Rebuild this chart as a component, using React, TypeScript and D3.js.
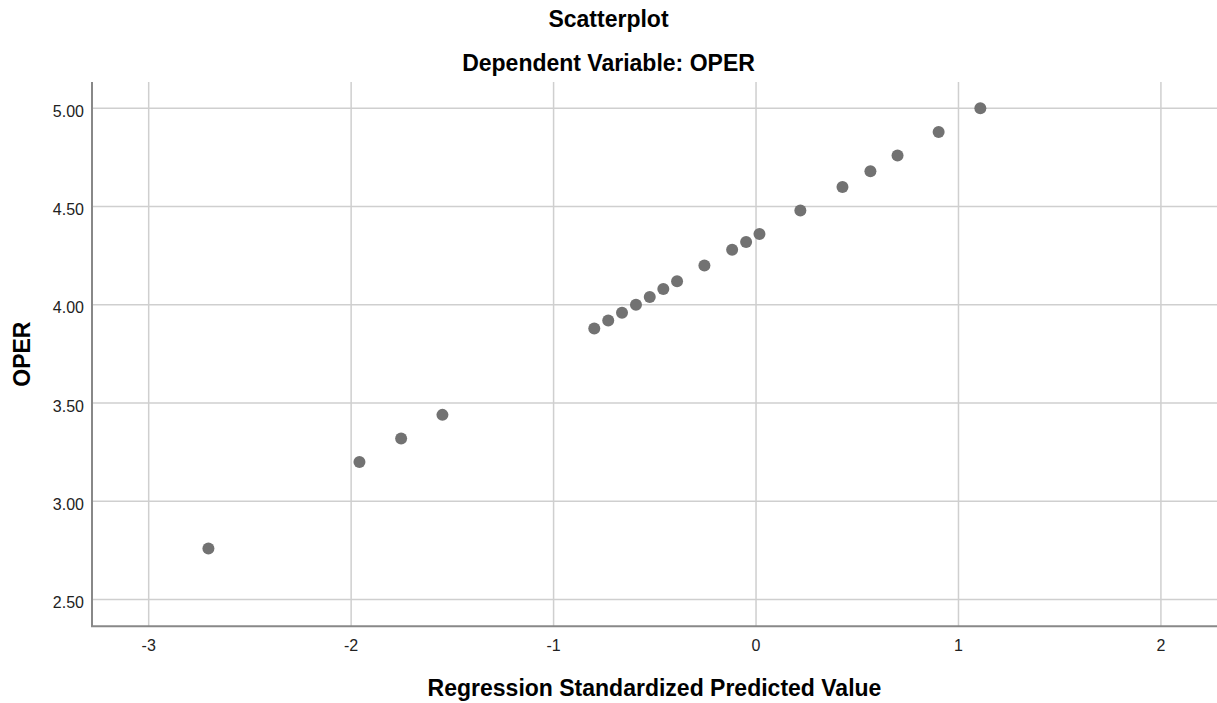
import React from "react";
import * as d3 from "d3";

const predicted = [-2.705, -1.959, -1.753, -1.549, -0.799, -0.730, -0.662, -0.593, -0.525, -0.458, -0.390, -0.255, -0.118, -0.049, 0.017, 0.219, 0.427, 0.565, 0.699, 0.902, 1.108];
const oper = [2.76, 3.20, 3.32, 3.44, 3.88, 3.92, 3.96, 4.00, 4.04, 4.08, 4.12, 4.20, 4.28, 4.32, 4.36, 4.48, 4.60, 4.68, 4.76, 4.88, 5.00];
const xTicks = [-3, -2, -1, 0, 1, 2];
const yTicks = [2.5, 3.0, 3.5, 4.0, 4.5, 5.0];
const title = "Scatterplot";
const subtitle = "Dependent Variable: OPER";
const xLabel = "Regression Standardized Predicted Value";
const yLabel = "OPER";

const W = 1217;
const H = 703;
const left = 92;
const right = 1217;
const top = 82;
const bottom = 626.3;

export default function App() {
  const x = d3.scaleLinear().domain([-3.28, 2.277]).range([left, right]);
  const y = d3.scaleLinear().domain([2.364, 5.134]).range([bottom, top]);
  const font = "'Liberation Sans', Arial, sans-serif";
  return (
    <div style={{ position: "fixed", left: 0, top: 0 }}>
      <svg width={W} height={H} style={{ display: "block", background: "#fff" }}>
        <rect x={0} y={0} width={W} height={H} fill="#fff" />
        {yTicks.map((t) => (
          <line key={"gy" + t} x1={left} x2={right} y1={y(t)} y2={y(t)} stroke="#cfcfcf" strokeWidth={1.5} />
        ))}
        {xTicks.map((t) => (
          <line key={"gx" + t} x1={x(t)} x2={x(t)} y1={top} y2={bottom} stroke="#cfcfcf" strokeWidth={1.5} />
        ))}
        <line x1={left} x2={left} y1={top} y2={bottom} stroke="#888" strokeWidth={2} />
        <line x1={left - 1} x2={right} y1={bottom} y2={bottom} stroke="#888" strokeWidth={2} />
        {yTicks.map((t) => (
          <text key={"ly" + t} x={84} y={y(t) + 8.5} textAnchor="end" fontFamily={font} fontSize={16} fill="#222">
            {d3.format(".2f")(t)}
          </text>
        ))}
        {xTicks.map((t) => (
          <text key={"lx" + t} x={x(t)} y={651} textAnchor="middle" fontFamily={font} fontSize={16} fill="#222">
            {String(t)}
          </text>
        ))}
        {predicted.map((p, i) => (
          <circle key={"pt" + i} cx={x(p)} cy={y(oper[i])} r={6} fill="#727272" />
        ))}
        <text x={W / 2} y={27} textAnchor="middle" fontFamily={font} fontSize={23} fontWeight="bold" fill="#000">
          {title}
        </text>
        <text x={W / 2} y={71} textAnchor="middle" fontFamily={font} fontSize={23} fontWeight="bold" fill="#000">
          {subtitle}
        </text>
        <text x={(left + right) / 2} y={696} textAnchor="middle" fontFamily={font} fontSize={23} fontWeight="bold" fill="#000">
          {xLabel}
        </text>
        <text
          transform={`translate(30, ${(top + bottom) / 2}) rotate(-90)`}
          textAnchor="middle"
          fontFamily={font}
          fontSize={23}
          fontWeight="bold"
          fill="#000"
        >
          {yLabel}
        </text>
      </svg>
    </div>
  );
}
